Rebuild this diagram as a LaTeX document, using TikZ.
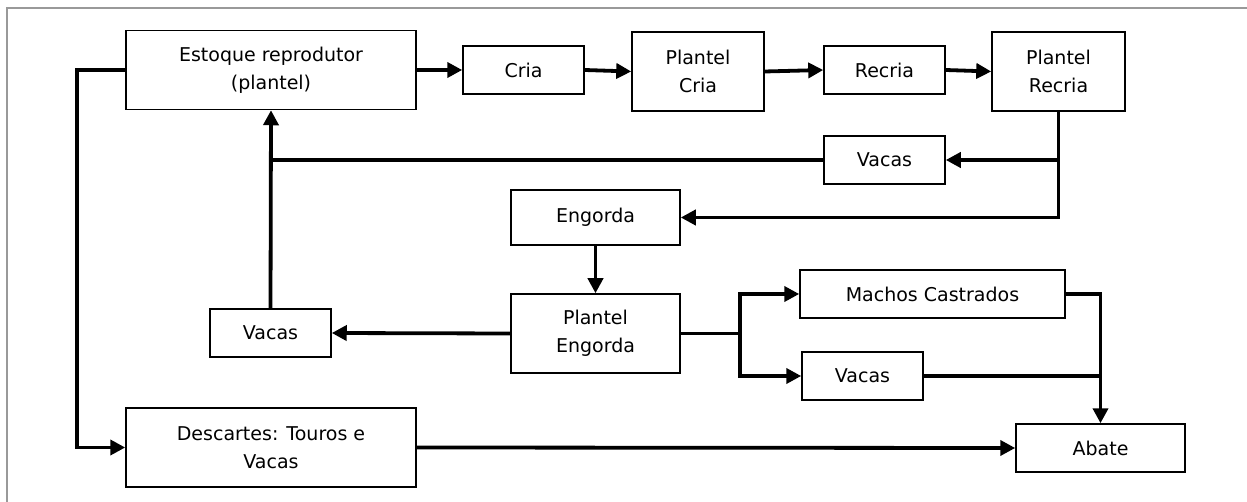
\documentclass[tikz,border=0pt]{standalone}
\usepackage{fontspec}
\setmainfont{DejaVu Sans}
\usetikzlibrary{arrows.meta}

\begin{document}
\begin{tikzpicture}[x=1pt,y=-1pt,
    caixa/.style={draw, line width=1.5pt, align=center, inner sep=0pt,
      font=\fontsize{19}{28}\selectfont},
    seta/.style={line width=3.8pt, -{Triangle[length=15pt,width=15pt]}},
    linha/.style={line width=3.8pt}]
  \useasboundingbox (0,0) rectangle (1247,502);
  % moldura
  \draw[gray!80, line width=1.5pt] (7,520) |- (1260,8);

  % Caixas da linha de cima
  \node[caixa, minimum width=290pt, minimum height=79pt] (estoque) at (271,70) {Estoque reprodutor\\(plantel)};
  \node[caixa, minimum width=121pt, minimum height=48pt] (cria) at (523.5,70) {Cria};
  \node[caixa, minimum width=132pt, minimum height=79pt] (pcria) at (698,71.5) {Plantel\\Cria};
  \node[caixa, minimum width=121pt, minimum height=48pt] (recria) at (884.5,70) {Recria};
  \node[caixa, minimum width=133pt, minimum height=79pt] (precria) at (1058.5,71.5) {Plantel\\Recria};

  % Caixas do meio
  \node[caixa, minimum width=121pt, minimum height=48pt] (vacasA) at (884.5,160) {Vacas};
  \node[caixa, minimum width=169pt, minimum height=55pt] (engorda) at (595.5,217.5) {Engorda};
  \node[caixa, minimum width=169pt, minimum height=79pt] (pengorda) at (595.5,333.5) {Plantel\\Engorda};
  \node[caixa, minimum width=121pt, minimum height=48pt] (vacasC) at (270.5,333) {Vacas};
  \node[caixa, minimum width=265pt, minimum height=48pt] (machos) at (932.5,294) {Machos Castrados};
  \node[caixa, minimum width=121pt, minimum height=48pt] (vacasB) at (862.5,376) {Vacas};

  % Caixas de baixo
  \node[caixa, minimum width=290pt, minimum height=79pt] (descartes) at (271,447.5) {Descartes: Touros e\\Vacas};
  \node[caixa, minimum width=169pt, minimum height=48pt] (abate) at (1100.5,448) {Abate};

  % Fluxo de cima
  \draw[seta] (estoque.east) -- (cria.west);
  \draw[seta] (cria.east) -- (pcria.west);
  \draw[seta] (pcria.east) -- (recria.west);
  \draw[seta] (recria.east) -- (precria.west);

  % Saidas do plantel recria
  \draw[seta] (precria.south) |- (engorda.east);
  \draw[seta] (precria.south |- vacasA.east) -- (vacasA.east);
  \draw[linha] (vacasA.west) -- (vacasA.west -| estoque.south);
  \draw[seta] (vacasC.north) -- (estoque.south);

  % Engorda
  \draw[seta] (engorda.south) -- (pengorda.north);
  \draw[seta] (pengorda.west) -- (vacasC.east);
  \coordinate (ramo) at (740,333.5);
  \draw[linha] (pengorda.east) -- (ramo);
  \draw[seta] (ramo) |- (machos.west);
  \draw[seta] (ramo) |- (vacasB.west);

  % Abate
  \draw[seta] (machos.east) -| (abate.north);
  \draw[linha] (vacasB.east) -- (vacasB.east -| abate.north);
  \draw[seta] (estoque.west) -- ++(-48,0) |- (descartes.west);
  \draw[seta] (descartes.east) -- (abate.west);
\end{tikzpicture}
\end{document}
